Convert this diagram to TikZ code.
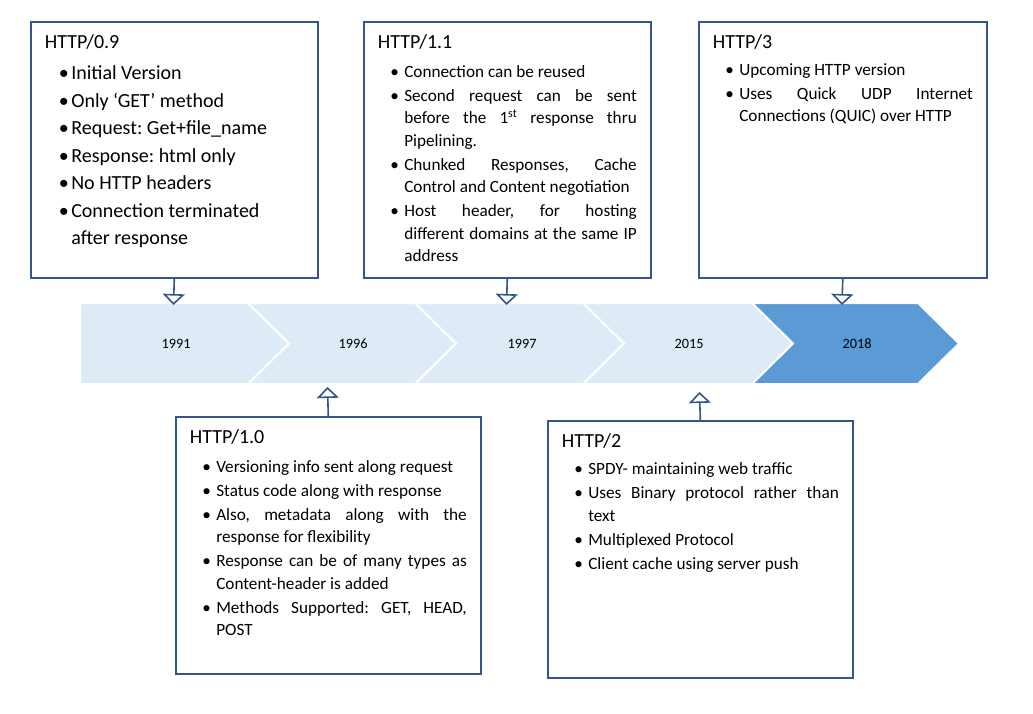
\documentclass[tikz,border=0pt]{standalone}
\usepackage{fontspec}
\setmainfont{Carlito}
\usetikzlibrary{arrows.meta}

\definecolor{boxblue}{RGB}{52,84,140}
\definecolor{bandlight}{RGB}{222,235,247}
\definecolor{banddark}{RGB}{91,155,213}

\newlength\itemgap \setlength\itemgap{1.5pt}
\newlength\titlegap \setlength\titlegap{4.5pt}
\newlength\bulind \setlength\bulind{12.5pt}
\newlength\textind \setlength\textind{26.5pt}
\newcommand\vtitle[1]{{\fontsize{20}{24}\selectfont\rule{0pt}{16pt}#1\par}\vspace{\titlegap}}
\newcommand\vitem{\par\vspace{\itemgap}\noindent\hangindent=\textind\hangafter=1%
  \hspace*{\bulind}\makebox[\dimexpr\textind-\bulind\relax][l]{\textbullet}\ignorespaces}
\newcommand\vbody[3]{\parbox[t][#1][t]{#2}{\frenchspacing\tolerance=9999\hyphenpenalty=10000\parindent=0pt
  \spaceskip=\fontdimen2\font plus 3\fontdimen3\font\relax #3}}

\begin{document}
\begin{tikzpicture}[x=1pt,y=-1pt,
    verbox/.style={draw=boxblue,line width=1.6pt,fill=white,anchor=north west,
      inner xsep=14pt,inner ysep=11pt,font=\fontsize{17.2}{22.5}\selectfont},
    chev/.style={draw=white,line width=2pt},
    yearlab/.style={font=\fontsize{14.3}{17}\selectfont},
    pointer/.style={draw=boxblue,line width=1.6pt,
      -{Triangle[open,width=22pt,length=11pt]}}]

    \useasboundingbox (0,0) rectangle (1033,714);

    % timeline band
    \filldraw[chev,fill=bandlight] (80,303) -- (248,303) -- (289,343.5) -- (248,384) -- (80,384) -- cycle;
    \filldraw[chev,fill=bandlight] (248,303) -- (415,303) -- (456,343.5) -- (415,384) -- (248,384) -- (289,343.5) -- cycle;
    \filldraw[chev,fill=bandlight] (415,303) -- (583,303) -- (624,343.5) -- (583,384) -- (415,384) -- (456,343.5) -- cycle;
    \filldraw[chev,fill=bandlight] (583,303) -- (752,303) -- (793,343.5) -- (752,384) -- (583,384) -- (624,343.5) -- cycle;
    \filldraw[chev,fill=banddark] (752,303) -- (918,303) -- (959,343.5) -- (918,384) -- (752,384) -- (793,343.5) -- cycle;

    \node[yearlab] (y1991) at (176,343.5) {1991};
    \node[yearlab] (y1996) at (353,343.5) {1996};
    \node[yearlab] (y1997) at (522,343.5) {1997};
    \node[yearlab] (y2015) at (689,343.5) {2015};
    \node[yearlab] (y2018) at (857,343.5) {2018};

    % version boxes
    \node[verbox,font=\fontsize{20}{27}\selectfont] (v09) at (30,21) {\vbody{234pt}{259pt}{%
      \setlength\itemgap{0.5pt}\setlength\titlegap{3.5pt}\setlength\bulind{14pt}%
      \vtitle{HTTP/0.9}\raggedright
      \vitem Initial Version
      \vitem Only ‘GET’ method
      \vitem Request: Get+file\_name
      \vitem Response: html only
      \vitem No HTTP headers
      \vitem Connection terminated\newline after response}};

    \node[verbox] (v11) at (363,21) {\vbody{234pt}{259pt}{%
      \vtitle{HTTP/1.1}
      \vitem Connection can be reused
      \vitem Second request can be sent before the 1\textsuperscript{st} response thru Pipelining.
      \vitem Chunked Responses, Cache Control and Content negotiation
      \vitem Host header, for hosting\linebreak different domains at the same IP\linebreak address}};

    \node[verbox] (v3) at (698,21) {\vbody{234pt}{260pt}{%
      \setlength\titlegap{2.5pt}%
      \vtitle{HTTP/3}
      \vitem Upcoming HTTP version
      \vitem Uses Quick UDP Internet Connections (QUIC) over HTTP}};

    \node[verbox] (v10) at (175,416) {\vbody{235pt}{277pt}{%
      \vtitle{HTTP/1.0}
      \vitem Versioning info sent along request
      \vitem Status code along with response
      \vitem Also, metadata along with the response for flexibility
      \vitem Response can be of many types as Content-header is added
      \vitem Methods Supported: GET, HEAD, POST}};

    \node[verbox] (v2) at (547,420) {\vbody{235pt}{277pt}{%
      \setlength\titlegap{3pt}%
      \vtitle{HTTP/2}
      \vitem SPDY- maintaining web traffic
      \vitem Uses Binary protocol rather than text
      \vitem Multiplexed Protocol
      \vitem Client cache using server push}};

    % pointers to the band
    \coordinate (a1991) at (173.5,305);
    \coordinate (a1997) at (506.5,305);
    \coordinate (a2018) at (842,305);
    \coordinate (a1996) at (327.5,387);
    \coordinate (a2015) at (699.5,392);

    \draw[pointer] (v09.south) -- (a1991);
    \draw[pointer] (v11.south) -- (a1997);
    \draw[pointer] (v3.south) -- (a2018);
    \draw[pointer] (v10.north) -- (a1996);
    \draw[pointer] (v2.north) -- (a2015);
\end{tikzpicture}
\end{document}
